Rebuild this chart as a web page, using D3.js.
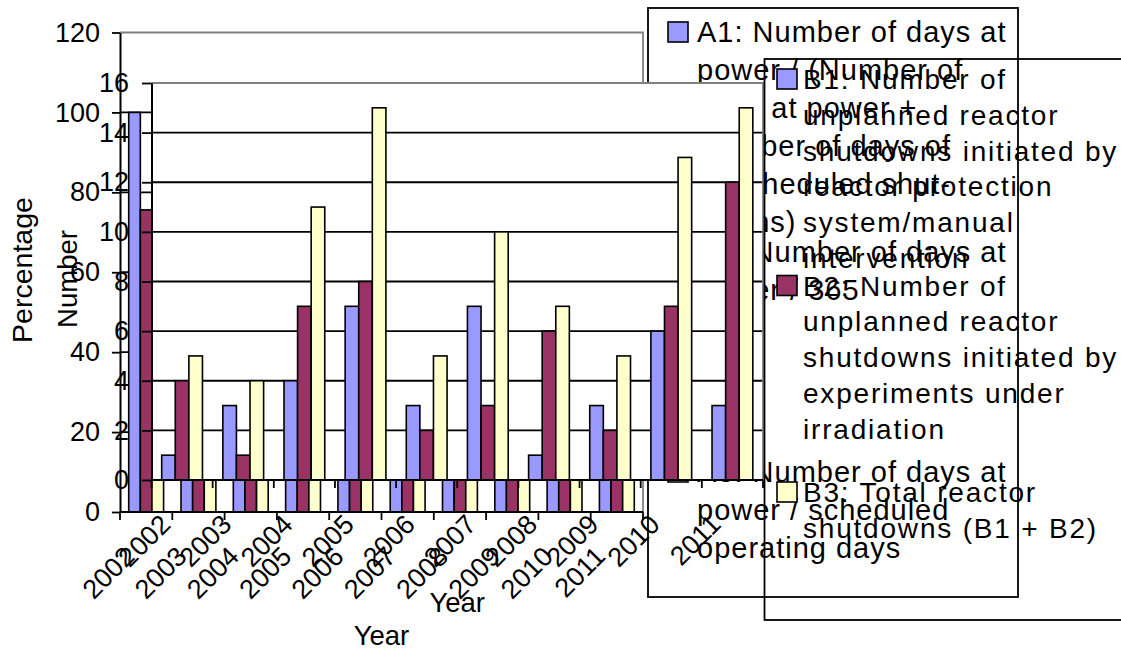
<!DOCTYPE html>
<html>
<head>
<meta charset="utf-8">
<script src="https://cdn.jsdelivr.net/npm/d3@7"></script>
<style>
  html, body { margin: 0; padding: 0; background: #fff; }
  svg { display: block; font-family: "Liberation Sans", Arial, sans-serif; }
</style>
</head>
<body>
<svg id="chart" width="1121" height="650"></svg>
<script>
// ---- data ----
const years = ["2002", "2003", "2004", "2005", "2006", "2007", "2008", "2009", "2010", "2011"];

// Performance indicators (%)
const a1Values = [100, 99, 98, 97, 99, 98, 99, 99, 97, 96];
const a2Values = [75.6, 78, 80, 74, 77, 76, 79, 78, 75, 72];
const a3Values = [101.5, 100, 99, 98, 100, 99, 100, 100, 98, 97];

// Unplanned reactor shutdowns (number)
const b1Values = [1, 3, 4, 7, 3, 7, 1, 3, 6, 3];
const b2Values = [4, 1, 7, 8, 2, 3, 6, 2, 7, 12];
const b3Values = [5, 4, 11, 15, 5, 10, 7, 5, 13, 15];

const percentTicks = [0, 20, 40, 60, 80, 100, 120];
const numberTicks = [0, 2, 4, 6, 8, 10, 12, 14, 16];

const seriesColors = ["#9999FF", "#993366", "#FFFFCC"];

const legendA = [
  ["A1: Number of days at", "power / (Number of", "days at power +", "Number of days of", "unscheduled shut-", "downs)"],
  ["A2: Number of days at", "power / 365"],
  ["A3: Number of days at", "power / scheduled", "operating days"]
];
const legendB = [
  ["B1: Number of", "unplanned reactor", "shutdowns initiated by", "reactor protection", "system/manual", "intervention"],
  ["B2: Number of", "unplanned reactor", "shutdowns initiated by", "experiments under", "irradiation"],
  ["B3: Total reactor", "shutdowns (B1 + B2)"]
];

const svg = d3.select("#chart");
const FONT = 27;

// Draws one clustered column chart with its axes.
function drawChart(g, cfg) {
  const x = d3.scaleBand().domain(years).range([cfg.left, cfg.right]).paddingInner(0).paddingOuter(0);
  const sub = d3.scaleBand().domain([0, 1, 2]).range([0, x.step()]).paddingInner(0).paddingOuter(0.75);
  const y = d3.scaleLinear().domain(cfg.domain).range([cfg.bottom, cfg.top]);

  // plot area
  g.append("rect")
    .attr("x", cfg.left).attr("y", cfg.top)
    .attr("width", cfg.right - cfg.left).attr("height", cfg.bottom - cfg.top)
    .attr("fill", "#fff").attr("stroke", "none");

  // gridlines
  g.append("g").selectAll("line")
    .data(cfg.ticks.filter(t => t > cfg.domain[0] && t < cfg.domain[1]))
    .join("line")
    .attr("x1", cfg.left).attr("x2", cfg.right)
    .attr("y1", d => y(d)).attr("y2", d => y(d))
    .attr("stroke", "#000").attr("stroke-width", 1.8);

  // plot border (top and right, grey)
  g.append("path")
    .attr("d", `M${cfg.left},${cfg.top}H${cfg.right}V${cfg.bottom}`)
    .attr("fill", "none").attr("stroke", "#808080").attr("stroke-width", 1.8);

  // bars
  cfg.series.forEach((vals, si) => {
    g.append("g").selectAll("rect")
      .data(vals.map((v, i) => ({ year: years[i], v })))
      .join("rect")
      .attr("x", d => x(d.year) + sub(si))
      .attr("width", sub.bandwidth())
      .attr("y", d => y(d.v))
      .attr("height", d => y(0) - y(d.v))
      .attr("fill", seriesColors[si])
      .attr("stroke", "#000").attr("stroke-width", 1.6);
  });

  // y axis
  const yAxis = d3.axisLeft(y).tickValues(cfg.ticks).tickSize(cfg.tickLen).tickSizeOuter(0).tickPadding(cfg.tickPad);
  const ya = g.append("g").attr("transform", `translate(${cfg.left},0)`).call(yAxis);
  ya.select(".domain").attr("stroke", "#000").attr("stroke-width", 2);
  ya.selectAll(".tick line").attr("stroke", "#000").attr("stroke-width", 1.8);
  ya.selectAll(".tick text").attr("font-size", FONT).attr("font-family", "Liberation Sans, Arial, sans-serif").attr("fill", "#000");

  // x axis line
  g.append("line")
    .attr("x1", cfg.left).attr("x2", cfg.right)
    .attr("y1", cfg.bottom).attr("y2", cfg.bottom)
    .attr("stroke", "#000").attr("stroke-width", 2);

  // x ticks at category boundaries
  const bounds = years.map(d => x(d)).concat([cfg.right]);
  g.append("g").selectAll("line").data(bounds).join("line")
    .attr("x1", d => d).attr("x2", d => d)
    .attr("y1", cfg.bottom).attr("y2", cfg.bottom + 8)
    .attr("stroke", "#000").attr("stroke-width", 1.8);

  // rotated category labels
  g.append("g").selectAll("text").data(years).join("text")
    .attr("transform", d => `translate(${x(d) + x.bandwidth() / 2 - 10},${cfg.bottom + 46}) rotate(-45)`)
    .attr("text-anchor", "end")
    .attr("font-size", FONT)
    .text(d => d);

  // axis titles
  g.append("text")
    .attr("transform", `translate(${cfg.yTitleX},${cfg.yTitleY}) rotate(-90)`)
    .attr("text-anchor", "middle")
    .attr("font-size", cfg.yTitleSize)
    .text(cfg.yTitle);
  g.append("text")
    .attr("x", (cfg.left + cfg.right) / 2).attr("y", cfg.xTitleY)
    .attr("text-anchor", "middle")
    .attr("font-size", 27.5)
    .text("Year");
}

// Draws a boxed legend with wrapped multi-line entries.
function drawLegend(g, cfg) {
  g.append("rect")
    .attr("x", cfg.x).attr("y", cfg.y).attr("width", cfg.w).attr("height", cfg.h)
    .attr("fill", cfg.fill).attr("stroke", "#000").attr("stroke-width", 1.8);
  cfg.entries.forEach((lines, i) => {
    const base = cfg.y + cfg.firstOffset + i * cfg.entryStep;
    g.append("rect")
      .attr("x", cfg.markerX).attr("y", base - 20).attr("width", 20).attr("height", 20)
      .attr("fill", seriesColors[i]).attr("stroke", "#000").attr("stroke-width", 1.6);
    const t = g.append("text")
      .attr("font-size", cfg.fontSize)
      .attr("letter-spacing", cfg.spacing);
    lines.forEach((ln, j) => {
      t.append("tspan").attr("x", cfg.textX).attr("y", base + j * cfg.lineStep).text(ln);
    });
  });
}

// Back chart: performance indicators (%)
const gA = svg.append("g");
drawChart(gA, {
  left: 120, right: 643, top: 32.5, bottom: 512,
  domain: [0, 120], ticks: percentTicks,
  series: [a1Values, a2Values, a3Values],
  tickLen: 8, tickPad: 12,
  yTitle: "Percentage", yTitleX: 32, yTitleY: 270, yTitleSize: 28.5,
  xTitleY: 645
});
drawLegend(gA, {
  x: 648, y: 8, w: 370, h: 589, fill: "#fff",
  entries: legendA, markerX: 668, textX: 697,
  firstOffset: 34, entryStep: 220, lineStep: 38,
  fontSize: 29, spacing: 1
});

// Front chart: unplanned reactor shutdowns (number)
const gB = svg.append("g");
drawChart(gB, {
  left: 151.5, right: 763, top: 83, bottom: 480,
  domain: [0, 16], ticks: numberTicks,
  series: [b1Values, b2Values, b3Values],
  tickLen: 9.5, tickPad: 13,
  yTitle: "Number", yTitleX: 77, yTitleY: 279, yTitleSize: 27.5,
  xTitleY: 612
});
drawLegend(gB, {
  x: 764.5, y: 59, w: 400, h: 561, fill: "none",
  entries: legendB, markerX: 777, textX: 803,
  firstOffset: 30, entryStep: 206.5, lineStep: 35.8,
  fontSize: 28, spacing: 1.8
});
</script>
</body>
</html>
